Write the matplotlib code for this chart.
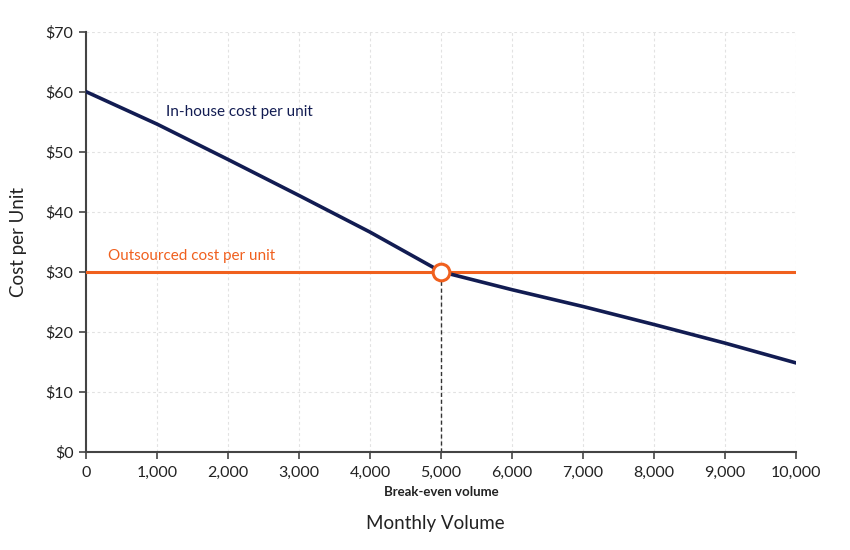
import matplotlib
matplotlib.use("Agg")
import matplotlib.pyplot as plt
from matplotlib.ticker import FuncFormatter

plt.rcParams['font.family'] = ['Lato', 'DejaVu Sans']

# Data
volume = [0, 1000, 2000, 3000, 4000, 5000, 6000, 7000, 8000, 9000, 10000]
inhouse_cost = [60.0, 54.6, 48.7, 42.7, 36.6, 30.0, 27.0, 24.2, 21.2, 18.1, 14.8]
outsourced_cost = [30.0] * len(volume)
breakeven_volume = 5000
breakeven_cost = 30.0
x_ticks = [0, 1000, 2000, 3000, 4000, 5000, 6000, 7000, 8000, 9000, 10000]
y_ticks = [0, 10, 20, 30, 40, 50, 60, 70]

NAVY = '#121c52'
ORANGE = '#f0601e'
AXIS = '#444444'

fig = plt.figure(figsize=(8.5, 5.5), dpi=100)
ax = fig.add_axes([0.1012, 0.1787, 0.8353, 0.7637])

ax.plot(volume, outsourced_cost, color=ORANGE, lw=2.2, zorder=3)
ax.plot(volume, inhouse_cost, color=NAVY, lw=2.6, zorder=4, solid_joinstyle='round')
ax.plot([breakeven_volume, breakeven_volume], [0, breakeven_cost], color='#333333',
        lw=1.0, ls=(0, (3, 2)), zorder=2)
ax.plot([breakeven_volume], [breakeven_cost], marker='o', ms=12, mfc='white',
        mec=ORANGE, mew=2.2, zorder=5)

ax.set_xlim(0, 10000)
ax.set_ylim(0, 70)
ax.set_xticks(x_ticks)
ax.set_yticks(y_ticks)
ax.xaxis.set_major_formatter(FuncFormatter(lambda v, p: f"{int(v):,}"))
ax.yaxis.set_major_formatter(FuncFormatter(lambda v, p: f"${int(v)}"))

ax.grid(True, color='#e2e2e2', ls=(0, (2.5, 2.5)), lw=0.8)
ax.set_axisbelow(True)
for s in ['top', 'right']:
    ax.spines[s].set_visible(False)
for s in ['left', 'bottom']:
    ax.spines[s].set_color(AXIS)
    ax.spines[s].set_linewidth(1.5)
ax.tick_params(axis='both', colors=AXIS, labelcolor='#222222', labelsize=11.5,
               length=5, width=1.2, pad=4)
ax.tick_params(axis='x', pad=5)

ax.text(1130, 56.6, 'In-house cost per unit', color=NAVY, fontsize=11,
        ha='left', va='center')
ax.text(310, 32.6, 'Outsourced cost per unit', color=ORANGE, fontsize=11,
        ha='left', va='center')

fig.text(441 / 850, 1 - 492 / 550, 'Break-even volume', fontsize=9.5,
         fontweight='bold', color='#222222', ha='center', va='center')
fig.text(435 / 850, 1 - 523 / 550, 'Monthly Volume', fontsize=13.5,
         color='#222222', ha='center', va='center')
fig.text(19 / 850, 1 - 242 / 550, 'Cost per Unit', fontsize=13.5,
         color='#222222', ha='center', va='center', rotation=90)

fig.savefig('out.png', dpi=100, facecolor='white')
